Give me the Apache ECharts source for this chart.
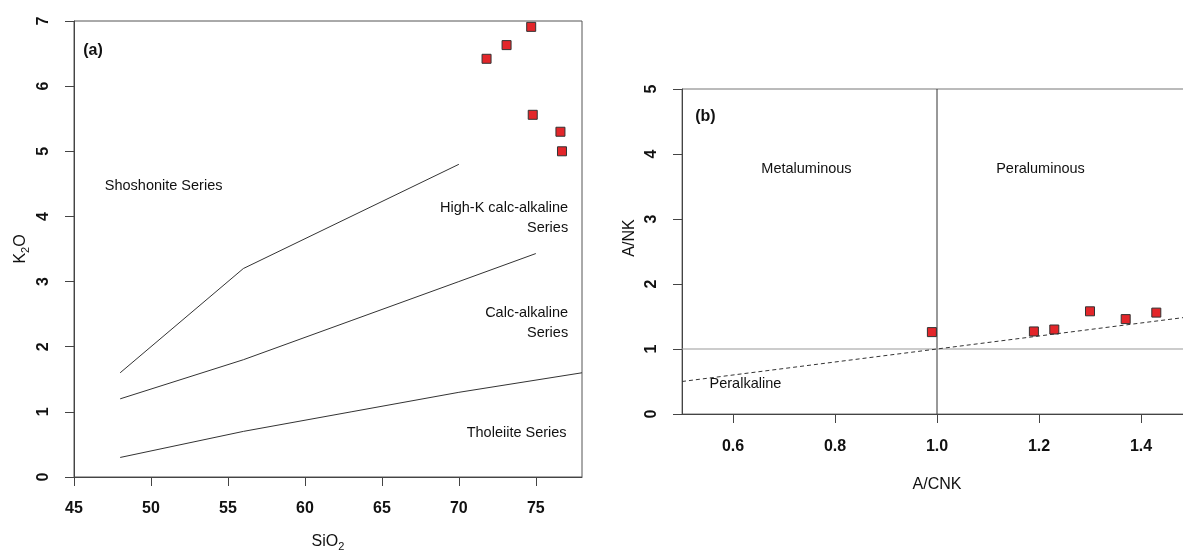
<!DOCTYPE html>
<html>
<head>
<meta charset="utf-8">
<title>K2O-SiO2 and A/NK-A/CNK</title>
<script src="https://cdn.jsdelivr.net/npm/echarts@6/dist/echarts.min.js"></script>
<style>
  html, body { margin: 0; padding: 0; background: #fff; }
  #chart { width: 1183px; height: 554px; }
</style>
</head>
<body>
<div id="chart"></div>
<script>
// (a) samples: SiO2 vs K2O
const sio2 = [71.8, 73.1, 74.7, 74.8, 76.6, 76.7];
const k2o = [6.42, 6.63, 6.91, 5.56, 5.30, 5.00];

// (a) series boundaries
const shoshX = [48, 56, 70];
const shoshY = [1.6, 3.2, 4.8];
const highKX = [48, 56, 63, 70, 75];
const highKY = [1.2, 1.8, 2.4, 3.0, 3.43];
const tholX = [48, 56, 63, 70, 78];
const tholY = [0.3, 0.7, 1.0, 1.3, 1.6];

// (b) samples: A/CNK vs A/NK
const acnk = [0.99, 1.19, 1.23, 1.30, 1.37, 1.43];
const ank = [1.26, 1.27, 1.30, 1.58, 1.46, 1.56];

// (b) boundaries
const diagX = [0.5, 1.5];
const diagY = [0.5, 1.5];

// tick labels
const ticksA = [45, 50, 55, 60, 65, 70, 75];
const ticksB = [0.6, 0.8, 1.0, 1.2, 1.4];

const FONT = "'Liberation Sans', Arial, sans-serif";
const INK = '#111';

function pairs(xs, ys) {
  return xs.map((x, i) => [x, ys[i]]);
}

function lineSeries(xi, yi, xs, ys, style) {
  return {
    type: 'line', xAxisIndex: xi, yAxisIndex: yi,
    data: pairs(xs, ys), symbol: 'none', silent: true,
    lineStyle: Object.assign({ color: '#333', width: 1 }, style)
  };
}

function xAxisCfg(grid, min, max, ticks, name, nameGap, margin, fmt) {
  return {
    type: 'value', gridIndex: grid, min: min, max: max,
    splitLine: { show: false },
    axisLine: { onZero: false, lineStyle: { color: '#444' } },
    axisTick: { length: 9, customValues: ticks, lineStyle: { color: '#444' } },
    axisLabel: { customValues: ticks, margin: margin, fontSize: 16, fontWeight: 'bold',
      fontFamily: FONT, color: INK, formatter: fmt },
    name: name, nameLocation: 'middle', nameGap: nameGap,
    nameTextStyle: { fontSize: 16, fontFamily: FONT, color: INK,
      rich: {
        a: { fontSize: 16, fontFamily: FONT, color: INK },
        s: { fontSize: 11, fontFamily: FONT, color: INK, padding: [10, 0, 0, 0] }
      } }
  };
}

function yAxisCfg(grid, max, name, nameGap, pad) {
  return {
    type: 'value', gridIndex: grid, min: 0, max: max, interval: 1,
    splitLine: { show: false },
    axisLine: { onZero: false, lineStyle: { color: '#444' } },
    axisTick: { length: 9, lineStyle: { color: '#444' } },
    axisLabel: { rotate: 90, margin: 22, fontSize: 16, fontWeight: 'bold',
      fontFamily: FONT, color: INK },
    name: name, nameLocation: 'middle', nameGap: nameGap, nameRotate: 90,
    nameTextStyle: { fontSize: 16, fontFamily: FONT, color: INK, padding: pad,
      rich: {
        a: { fontSize: 16, fontFamily: FONT, color: INK },
        s: { fontSize: 11, fontFamily: FONT, color: INK, padding: [10, 0, 0, 0] }
      } }
  };
}

const sampleStyle = { color: '#e3262a', borderColor: '#333', borderWidth: 1, opacity: 1 };

let chart = echarts.init(document.getElementById('chart'));
chart.setOption({
  animation: false,
  backgroundColor: '#fff',
  grid: [
    { left: 74, top: 21, width: 508, height: 456, show: true, borderColor: '#555', borderWidth: 1,
      outerBoundsMode: 'none' },
    // right panel runs past the picture edge, as in the source figure
    { left: 682, top: 89, width: 510, height: 325, show: true, borderColor: '#777', borderWidth: 1,
      outerBoundsMode: 'none' }
  ],
  xAxis: [
    xAxisCfg(0, 45, 78, ticksA, '{a|SiO}{s|2}', 54, 24),
    xAxisCfg(1, 0.5, 1.5, ticksB, 'A/CNK', 63, 25, v => v.toFixed(1))
  ],
  yAxis: [
    yAxisCfg(0, 7, '{a|K}{s|2}{a|O}', 43, 0),
    yAxisCfg(1, 5, 'A/NK', 44, [0, 0, 0, 27])
  ],
  series: [
    lineSeries(0, 0, shoshX, shoshY),
    lineSeries(0, 0, highKX, highKY),
    lineSeries(0, 0, tholX, tholY),
    {
      type: 'scatter', xAxisIndex: 0, yAxisIndex: 0,
      data: pairs(sio2, k2o), symbol: 'rect', symbolSize: 9,
      itemStyle: sampleStyle
    },
    lineSeries(1, 1, [1, 1], [0, 5], { color: '#333' }),
    lineSeries(1, 1, [0.5, 1.5], [1, 1], { color: '#999' }),
    lineSeries(1, 1, diagX, diagY, { color: '#333', type: [4, 3] }),
    {
      type: 'scatter', xAxisIndex: 1, yAxisIndex: 1,
      data: pairs(acnk, ank), symbol: 'rect', symbolSize: 9,
      itemStyle: sampleStyle
    }
  ]
});

// field annotations, anchored in data coordinates
const notes = [
  { g: 0, at: [45.6, 6.54], text: '(a)', align: 'left', bold: true },
  { g: 0, at: [47.0, 4.47], text: 'Shoshonite Series', align: 'left' },
  { g: 0, at: [77.1, 3.98], text: 'High-K calc-alkaline\nSeries', align: 'right' },
  { g: 0, at: [77.1, 2.37], text: 'Calc-alkaline\nSeries', align: 'right' },
  { g: 0, at: [77.0, 0.68], text: 'Tholeiite Series', align: 'right' },
  { g: 1, at: [0.526, 4.58], text: '(b)', align: 'left', bold: true },
  { g: 1, at: [0.744, 3.77], text: 'Metaluminous', align: 'center' },
  { g: 1, at: [1.203, 3.77], text: 'Peraluminous', align: 'center' },
  { g: 1, at: [0.554, 0.46], text: 'Peralkaline', align: 'left' }
];
chart.setOption({
  graphic: notes.map(n => {
    const p = chart.convertToPixel({ gridIndex: n.g }, n.at);
    return {
      type: 'text', x: p[0], y: p[1], silent: true,
      style: {
        text: n.text, align: n.align, verticalAlign: 'middle',
        fontSize: n.bold ? 16 : 14.5, fontWeight: n.bold ? 'bold' : 'normal',
        fontFamily: FONT, fill: INK, lineHeight: 20
      }
    };
  })
});
</script>
</body>
</html>
